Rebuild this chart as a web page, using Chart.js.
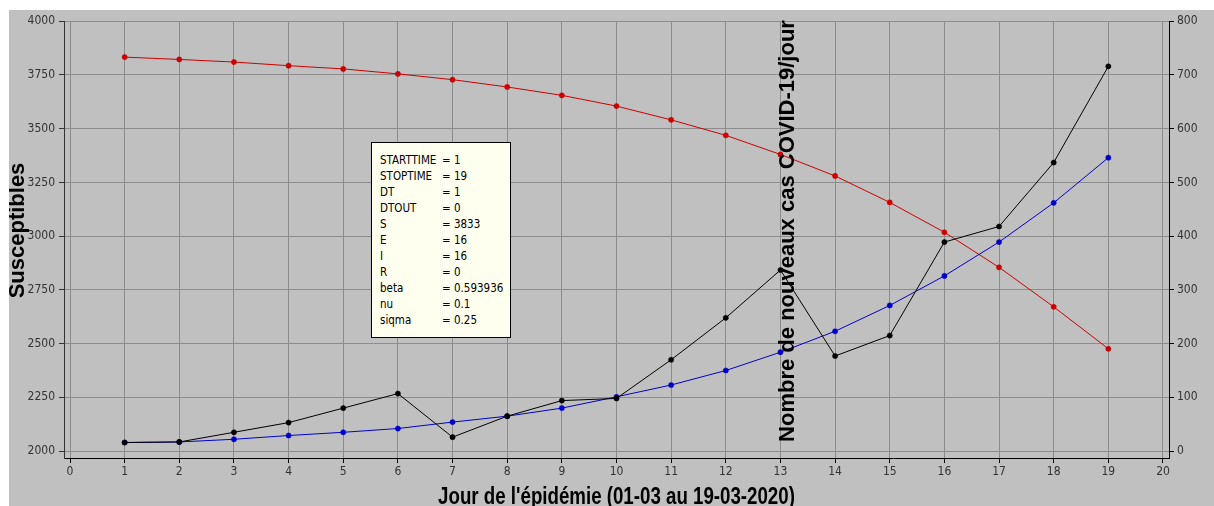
<!DOCTYPE html>
<html>
<head>
<meta charset="utf-8">
<script src="https://cdn.jsdelivr.net/npm/chart.js@4/dist/chart.umd.min.js"></script>
<style>
  body { margin: 0; background: #fff; }
  #wrap { position: absolute; left: 9px; top: 10px; width: 1205px; height: 496px; background: #c0c0c0; overflow: hidden; }
  #box {
    position: absolute; left: 362px; top: 132px; width: 140px; height: 196px;
    background: #ffffef; border: 1px solid #000;
    font: 11.5px 'DejaVu Sans Condensed', sans-serif; color: #000;
    padding: 9px 0 0 8px; box-sizing: border-box; line-height: 16px; white-space: nowrap;
  }
  #box div span { display: inline-block; width: 62px; }
</style>
</head>
<body>
<div id="wrap">
  <canvas id="chart"></canvas>
  <div id="box"></div>
</div>
<script>
const days = [1, 2, 3, 4, 5, 6, 7, 8, 9, 10, 11, 12, 13, 14, 15, 16, 17, 18, 19];
const susceptibles = [3833, 3822, 3810, 3793, 3778, 3755, 3728, 3694, 3655, 3605, 3541, 3469, 3380, 3280, 3157, 3018, 2855, 2671, 2476];
const modelCases = [16, 17, 22, 29, 35, 42, 54, 65, 80, 101, 123, 150, 184, 223, 271, 326, 389, 462, 546];
const observedCases = [16, 17, 35, 53, 80, 107, 26, 65, 94, 98, 170, 248, 337, 177, 215, 389, 418, 537, 716];

const xTicks = [0, 1, 2, 3, 4, 5, 6, 7, 8, 9, 10, 11, 12, 13, 14, 15, 16, 17, 18, 19, 20];
const leftTicks = [2000, 2250, 2500, 2750, 3000, 3250, 3500, 3750, 4000];
const rightTicks = [0, 100, 200, 300, 400, 500, 600, 700, 800];

const params = [
    ['STARTTIME', '= 1'], ['STOPTIME', '= 19'], ['DT', '= 1'], ['DTOUT', '= 0'],
    ['S', '= 3833'], ['E', '= 16'], ['I', '= 16'], ['R', '= 0'],
    ['beta', '= 0.593936'], ['nu', '= 0.1'], ['siqma', '= 0.25']
];

const box = document.getElementById('box');
params.forEach(p => {
    const row = document.createElement('div');
    row.innerHTML = `<span>${p[0]}</span>${p[1]}`;
    box.appendChild(row);
});

const tickFont = { family: "'DejaVu Sans Condensed', sans-serif", size: 12 };
const titleFont = "bold 22px 'Liberation Sans', Arial, sans-serif";
const gridColor = '#8c8c8c';
const toPoints = values => values.map((v, i) => ({ x: days[i], y: v }));

// axis titles drawn by hand: the narrow x title and the right title sitting inside the plot
const axisTitles = {
    id: 'axisTitles',
    afterDraw(chart) {
        const ctx = chart.ctx;
        const area = chart.chartArea;
        ctx.save();
        ctx.fillStyle = '#000';
        ctx.textAlign = 'center';
        ctx.textBaseline = 'alphabetic';

        // x title (narrow bold)
        ctx.save();
        ctx.translate((area.left + area.right) / 2, 494);
        ctx.scale(0.813, 1);
        ctx.font = "bold 23px 'Liberation Sans', Arial, sans-serif";
        ctx.fillText("Jour de l'épidémie (01-03 au 19-03-2020)", 0, 0);
        ctx.restore();

        // left title
        ctx.save();
        ctx.translate(15, 220.5);
        ctx.rotate(-Math.PI / 2);
        ctx.font = titleFont;
        ctx.fillText('Susceptibles', 0, 0);
        ctx.restore();

        // right axis title, drawn over the plot at day 13
        ctx.save();
        ctx.translate(chart.scales.x.getPixelForValue(13) + 14, 221);
        ctx.rotate(-Math.PI / 2);
        ctx.font = titleFont;
        ctx.fillText('Nombre de nouveaux cas COVID-19/jour', 0, 0);
        ctx.restore();

        ctx.restore();
    }
};

const makeSet = (label, values, axis, color) => ({
    label: label,
    data: toPoints(values),
    yAxisID: axis,
    borderColor: color,
    backgroundColor: color,
    borderWidth: 1,
    pointRadius: 2.6,
    pointBorderWidth: 0.5,
    tension: 0
});

new Chart(document.getElementById('chart'), {
    type: 'line',
    data: {
        datasets: [
            makeSet('Cas observés', observedCases, 'y1', '#000000'),
            makeSet('Cas modèle', modelCases, 'y1', '#0000cc'),
            makeSet('Susceptibles', susceptibles, 'y', '#cc0000')
        ]
    },
    options: {
        responsive: true,
        maintainAspectRatio: false,
        animation: false,
        layout: { padding: { top: 5, left: 0, right: 0, bottom: 0 } },
        plugins: { legend: { display: false }, tooltip: { enabled: false } },
        scales: {
            x: {
                type: 'linear',
                min: -0.1098,
                max: 20.1098,
                afterBuildTicks: s => { s.ticks = xTicks.map(v => ({ value: v })); },
                afterFit: s => { s.height = 48; },
                grid: { color: gridColor, tickColor: '#000', tickLength: 5 },
                border: { color: '#000' },
                ticks: { color: '#333', font: tickFont, padding: 2, maxRotation: 0, callback: v => String(v) }
            },
            y: {
                position: 'left',
                min: 1967.89,
                max: 4000,
                afterBuildTicks: s => { s.ticks = leftTicks.map(v => ({ value: v })); },
                afterFit: s => { s.width = 55; },
                grid: { color: gridColor, tickColor: '#333', tickLength: 5 },
                border: { color: '#333' },
                ticks: { color: '#333', font: tickFont, padding: 4, callback: v => String(v) }
            },
            y1: {
                position: 'right',
                min: -12.84,
                max: 800,
                afterBuildTicks: s => { s.ticks = rightTicks.map(v => ({ value: v })); },
                afterFit: s => { s.width = 45; },
                grid: { drawOnChartArea: false, tickColor: '#000', tickLength: 5 },
                border: { color: '#000' },
                ticks: { color: '#333', font: tickFont, padding: 3, callback: v => String(v) }
            }
        }
    },
    plugins: [axisTitles]
});
</script>
</body>
</html>
